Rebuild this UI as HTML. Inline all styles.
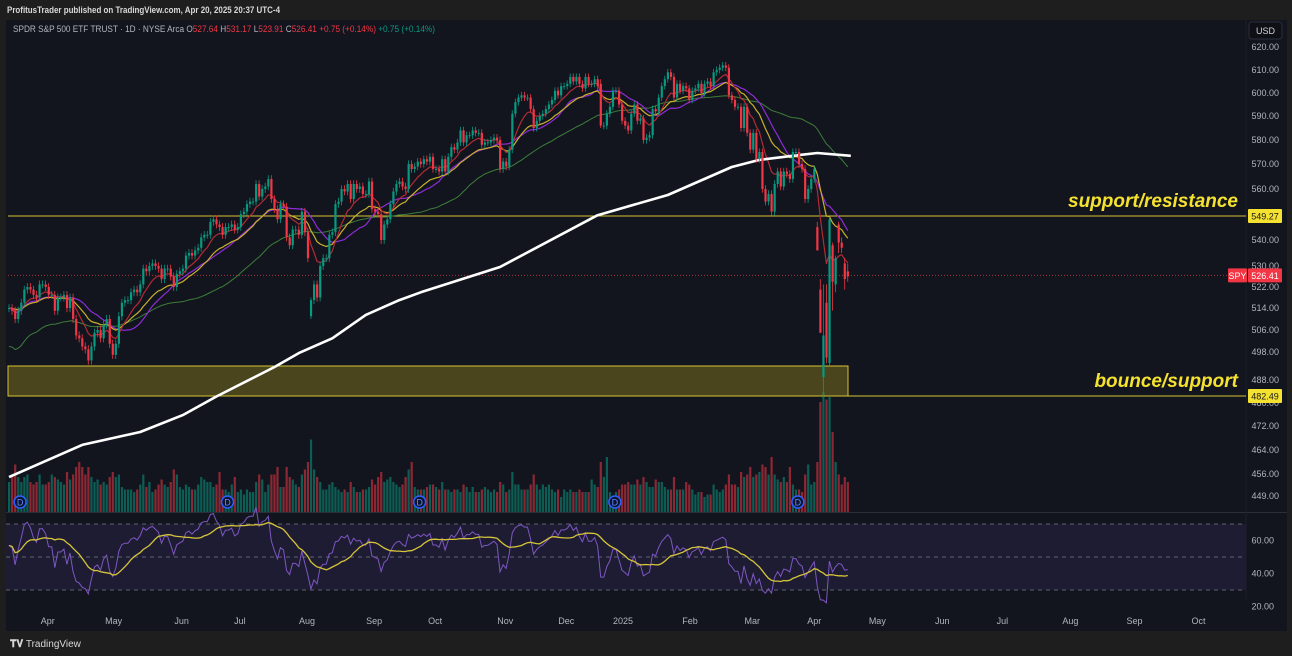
<!DOCTYPE html>
<html><head><meta charset="utf-8"><style>
html,body{margin:0;padding:0;background:#1e1e1e;width:1292px;height:656px;overflow:hidden;font-family:"Liberation Sans",sans-serif}
svg{display:block}
text{font-family:"Liberation Sans",sans-serif}
</style></head><body>
<svg id="c" width="1292" height="656" xmlns="http://www.w3.org/2000/svg">
<rect x="0" y="0" width="1292" height="656" fill="#1e1e1e"/>
<text x="7" y="13" fill="#d9d9d9" font-size="9" font-weight="bold" textLength="273" lengthAdjust="spacingAndGlyphs">ProfitusTrader published on TradingView.com, Apr 20, 2025 20:37 UTC-4</text>
<rect x="6" y="20" width="1281" height="611" fill="#12151e"/>
<rect x="6" y="524" width="1240" height="66" fill="#1d1c33"/>
<line x1="6" y1="512.5" x2="1287" y2="512.5" stroke="#2a2e39"/>
<line x1="1246" y1="20" x2="1246" y2="600" stroke="#1b1f29"/>
<g id="grid"></g>
<g id="vol"></g>
<g id="zones"></g>
<g id="ma"></g>
<g id="candles"></g>
<g id="rsi"></g>
<g id="axis"></g>
<g id="tags"></g>
<text x="13" y="32" font-size="9" fill="#b2b5be" textLength="422" lengthAdjust="spacingAndGlyphs">SPDR S&amp;P 500 ETF TRUST · 1D · NYSE Arca <tspan fill="#b2b5be">O</tspan><tspan fill="#f23645">527.64</tspan> <tspan fill="#b2b5be">H</tspan><tspan fill="#f23645">531.17</tspan> <tspan fill="#b2b5be">L</tspan><tspan fill="#f23645">523.91</tspan> <tspan fill="#b2b5be">C</tspan><tspan fill="#f23645">526.41</tspan> <tspan fill="#f23645">+0.75 (+0.14%)</tspan> <tspan fill="#089981">+0.75 (+0.14%)</tspan></text>
<rect x="1249" y="22" width="33" height="17" rx="3" fill="#0e1016" stroke="#2a2e39"/>
<text x="1265.5" y="34" font-size="9" fill="#d1d4dc" text-anchor="middle">USD</text>
<text x="1238" y="207" font-size="19" font-weight="bold" font-style="italic" fill="#f5e12f" text-anchor="end">support/resistance</text>
<text x="1238" y="387" font-size="19" font-weight="bold" font-style="italic" fill="#f5e12f" text-anchor="end">bounce/support</text>
<rect x="0" y="631" width="1292" height="25" fill="#1e1e1e"/>
<text x="10" y="647" font-size="10" font-weight="bold" fill="#d9d9d9">𝐓𝐕 <tspan font-weight="normal">TradingView</tspan></text>
</svg>
<script>
const closes=[514,513,510,513,516,521,522,521,519,518,523,523,
522,519,519,513,518,518,519,514,518,510,504,503,500,499,495,500,505,506,503,508,
510,501,497,501,511,
516,517,517,520,521,520,523,529,528,530,531,530,529,525,529,529,526,522,527,
528,529,534,535,534,536,537,541,542,542,547,548,546,545,542,545,545,546,544,
545,550,551,554,555,555,562,557,560,561,564,556,552,548,554,553,541,538,544,544,542,551,543,533,
517,523,518,530,533,533,542,543,554,555,560,559,562,556,562,560,561,558,558,563,
552,551,550,540,546,548,554,559,562,563,561,560,570,568,569,571,570,572,571,573,568,568,567,572,
567,573,577,576,579,584,579,582,582,584,583,583,578,579,579,580,581,580,568,571,
569,576,591,596,598,599,598,598,593,585,588,590,591,593,595,597,601,599,603,
603,604,607,605,607,604,602,607,604,604,606,603,586,586,591,594,601,601,595,588,586,584,591,
595,588,589,580,581,582,593,592,598,603,606,609,607,598,604,601,603,602,
597,601,602,604,600,604,605,603,609,610,611,612,611,599,597,594,594,585,594,
583,576,583,572,575,560,555,558,551,562,567,561,567,566,564,575,575,570,568,556,
560,564,568,536,505,504,496,548,524,533,539,537,525,526];
const volumes=[60,75,95,70,60,70,75,60,55,60,75,55,
55,60,75,70,65,60,55,80,65,75,90,100,90,75,90,70,60,65,55,60,
55,70,80,70,75,
50,45,45,45,40,45,55,75,50,60,40,45,55,65,55,50,60,85,75,
50,45,55,50,45,45,55,70,65,60,60,50,55,80,45,45,40,55,70,
40,45,35,45,40,40,60,75,65,40,55,75,75,90,50,50,90,70,65,55,50,75,85,100,
145,85,70,60,45,45,55,60,50,45,40,45,40,60,50,40,40,45,45,50,
65,55,70,80,60,65,70,60,55,50,55,70,85,100,50,45,45,45,50,55,55,50,45,60,
45,45,40,45,45,40,55,50,40,50,40,40,45,50,45,40,45,40,60,55,
40,45,80,55,55,45,45,45,55,75,55,45,55,50,55,45,40,45,30,
45,40,45,40,40,45,40,40,40,65,55,50,100,70,110,40,25,40,45,55,55,60,55,
55,65,55,70,60,50,50,65,60,60,50,45,45,70,45,45,45,60,
55,45,35,40,40,30,35,35,55,45,40,45,55,75,55,55,50,80,70,
75,90,70,75,80,95,90,75,110,75,65,60,70,60,90,55,45,45,40,75,
95,55,60,100,220,240,225,230,160,100,75,55,70,60];
// special bars: [dayIndex, open, high, low]
const specialBars=[[99,511,518,510],[194,604,606,585],[265,545,547,536],[266,521,525,505],[267,489,523,482],[268,516,523,494],[269,494,549,493],[270,538,539,513],[271,523,534,520],[272,546,547,535],[273,539,541,535],[274,531,533,521],[275,528,531,524]];
const ma200Days=[0,24,43,57,68,87,95,106,117,128,135,161,193,216,237,246,259,265,276];
const ma200Vals=[455,465.7,470,475.8,482.3,492.6,497.6,503,511.5,517,520,529.6,549.6,557.6,568.8,571.7,573.7,574.6,573.4];
const priceTicks=[620,610,600,590,580,570,560,540,530,522,514,506,498,488,480,472,464,456,449];
const rsiTicks=[60,40,20];
const monthLabels=["Apr","May","Jun","Jul","Aug","Sep","Oct","Nov","Dec","2025","Feb","Mar","Apr","May","Jun","Jul","Aug","Sep","Oct"];
const monthDays=[12.7,34.3,56.6,75.7,97.7,119.7,139.7,162.7,182.7,201.3,223.3,243.7,264,284.7,306,325.7,348,369,390];
const dividendDays=[2,70,133,197,257];
const levelResistance=549.27, zoneTop=493, zoneBottom=482.49, lastPrice=526.41;

const NS="http://www.w3.org/2000/svg";
const PA=[[620,47],[610,70],[600,93],[590,116],[580,140],[570,164],[560,189],[549.27,216],[540,240],[530,266],[522,287],[514,308],[506,330],[498,352],[488,380],[482.49,396],[480,403],[472,426],[464,450],[456,474],[449,496]];
function yP(p){
  if(p>=PA[0][0]) return PA[0][1]-(p-PA[0][0])*2.3;
  for(let i=0;i<PA.length-1;i++){const a=PA[i],b=PA[i+1];
    if(p<=a[0]&&p>=b[0]) return a[1]+(a[0]-p)/(a[0]-b[0])*(b[1]-a[1]);}
  const l=PA[PA.length-1]; return l[1]+(l[0]-p)*3.1;
}
function xD(i){return 9+i*3.05;}
function yR(v){return 557-(v-50)*1.65;}
function yV(v){return 512-v*0.5;}
function el(tag,attrs,parent){const e=document.createElementNS(NS,tag);for(const k in attrs)e.setAttribute(k,attrs[k]);parent.appendChild(e);return e;}
const G=id=>document.getElementById(id);

const opens=[],highs=[],lows=[];
closes.forEach((c,i)=>{const o=i?closes[i-1]:c;opens.push(o);highs.push(Math.max(o,c)+1.5);lows.push(Math.min(o,c)-1.5);});
specialBars.forEach(s=>{opens[s[0]]=s[1];highs[s[0]]=s[2];lows[s[0]]=s[3];});

const gv=G('vol');
volumes.forEach((v,i)=>{const up=closes[i]>=opens[i];
  const r=el('rect',{x:xD(i)-1,y:yV(v),width:2.2,height:512-yV(v),fill:up?'rgba(8,153,129,0.55)':'rgba(242,54,69,0.55)'},gv);
  
  
});

const gz=G('zones');
let z=el('rect',{x:8,y:yP(zoneTop),width:840,height:yP(zoneBottom)-yP(zoneTop),fill:'rgba(120,110,30,0.55)',stroke:'#d7c431','stroke-width':1},gz);


z=el('line',{x1:8,x2:1246,y1:yP(zoneBottom),y2:yP(zoneBottom),stroke:'#d7c431','stroke-width':1},gz);


z=el('line',{x1:8,x2:1246,y1:yP(levelResistance),y2:yP(levelResistance),stroke:'#d7c431','stroke-width':1},gz);


z=el('line',{x1:8,x2:1228,y1:yP(lastPrice),y2:yP(lastPrice),stroke:'#a8323c','stroke-width':1,'stroke-dasharray':'1 2'},gz);



function ema(n){const k=2/(n+1);let e=closes[0];return closes.map(c=>(e=c*k+e*(1-k)));}
function sma(n){return closes.map((c,i)=>{const s=Math.max(0,i-n+1);let t=0;for(let j=s;j<=i;j++)t+=closes[j];return t/(i-s+1);});}
function line(vals,color,w,name){const pts=vals.map((v,i)=>xD(i).toFixed(1)+','+yP(v).toFixed(1)).join(' ');
  const p=el('polyline',{points:pts,fill:'none',stroke:color,'stroke-width':w,'stroke-linejoin':'round'},G('ma'));
  
  }
line(sma(50).map((v,i)=>i<50?v-14+i*0.28:v),'#3d7d3a',1,'sma-50-line');
line(sma(20),'#8e2bd6',1.2,'sma-20-line');
line(ema(20),'#c8b02c',1.2,'ema-20-line');
line(ema(9),'#b32a35',1.2,'ema-9-line');
{const pts=ma200Days.map((d,i)=>xD(d).toFixed(1)+','+yP(ma200Vals[i]).toFixed(1)).join(' ');
 const p=el('polyline',{points:pts,fill:'none',stroke:'#ffffff','stroke-width':2.6,'stroke-linejoin':'round'},G('ma'));
 
 }

const gc=G('candles');
closes.forEach((c,i)=>{const o=opens[i],up=c>=o,col=up?'#089981':'#f23645',x=xD(i);
  const g=el('g',{},gc);
  
  
  el('line',{x1:x,x2:x,y1:yP(highs[i]),y2:yP(lows[i]),stroke:col,'stroke-width':0.8},g);
  const t=Math.min(yP(o),yP(c)),h=Math.max(1,Math.abs(yP(o)-yP(c)));
  el('rect',{x:x-1,y:t,width:2.2,height:h,fill:col},g);
});

dividendDays.forEach(d=>{const g=el('g',{},gc);
  
  
  el('circle',{cx:xD(d)+5,cy:502,r:6,fill:'#0d1330',stroke:'#2962ff','stroke-width':1.5},g);
  const t=el('text',{x:xD(d)+5,y:505.5,'font-size':9,fill:'#5b8cff','text-anchor':'middle'},g);t.textContent='D';});

const gr=G('rsi');
[70,50,30].forEach(v=>{const l=el('line',{x1:6,x2:1246,y1:yR(v),y2:yR(v),stroke:'#787b86','stroke-width':0.8,'stroke-dasharray':'4 4'},gr);
  
  });
const rsi=[];{let ag=0.6,al=0.4;rsi.push(57);
 for(let i=1;i<closes.length;i++){const d=closes[i]-closes[i-1];ag=(ag*13+Math.max(d,0))/14;al=(al*13+Math.max(-d,0))/14;rsi.push(100-100/(1+ag/(al||1e-6)));}}
const rsiMa=rsi.map((v,i)=>{const s=Math.max(0,i-13);let t=0;for(let j=s;j<=i;j++)t+=rsi[j];return t/(i-s+1);});
{let p=el('polyline',{points:rsi.map((v,i)=>xD(i).toFixed(1)+','+yR(v).toFixed(1)).join(' '),fill:'none',stroke:'#7e57c2','stroke-width':1},gr);
 
 
 p=el('polyline',{points:rsiMa.map((v,i)=>xD(i).toFixed(1)+','+yR(v).toFixed(1)).join(' '),fill:'none',stroke:'#d6c43a','stroke-width':1.3},gr);
 
 }

const ga=G('axis');
priceTicks.forEach(p=>{const t=el('text',{x:1279,y:yP(p)+3,'font-size':9,fill:'#b2b5be','text-anchor':'end'},ga);t.textContent=p.toFixed(2);
  
  });
rsiTicks.forEach(v=>{const t=el('text',{x:1274,y:yR(v)+3,'font-size':9,fill:'#b2b5be','text-anchor':'end'},ga);t.textContent=v.toFixed(2);
  
  });
monthLabels.forEach((m,i)=>{const t=el('text',{x:xD(monthDays[i]),y:624,'font-size':9,fill:'#b2b5be','text-anchor':'middle'},ga);t.textContent=m;
  
  });

const gt=G('tags');
function tag(x,y,w,bg,fg,txt,name){const g=el('g',{},gt);
  
  
  el('rect',{x:x,y:y-7,width:w,height:14,fill:bg,rx:1},g);
  const t=el('text',{x:x+w/2,y:y+3.5,'font-size':9,fill:fg,'text-anchor':'middle'},g);t.textContent=txt;}
tag(1248,yP(levelResistance),34,'#f5e12f','#1a1a1a',levelResistance.toFixed(2),'resistance-price-tag');
tag(1248,yP(zoneBottom),34,'#f5e12f','#1a1a1a',zoneBottom.toFixed(2),'support-price-tag');
tag(1228,yP(lastPrice),19,'#f23645','#ffffff','SPY','symbol-tag');
tag(1248,yP(lastPrice),34,'#f23645','#ffffff',lastPrice.toFixed(2),'last-price-tag');
</script>
</body></html>
